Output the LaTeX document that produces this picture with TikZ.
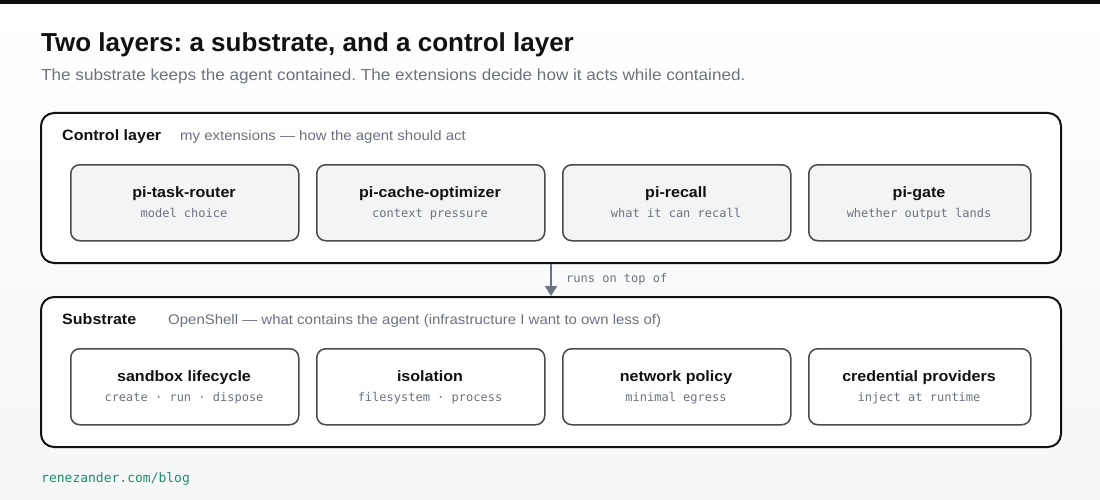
\documentclass[tikz,border=0pt]{standalone}
\usepackage{fontspec}
\setmainfont[FakeStretch=1.07]{Liberation Sans}
\newfontfamily\titlefam{Liberation Sans}
\setmonofont{DejaVu Sans Mono}
\usetikzlibrary{arrows.meta}
\definecolor{bgbot}{HTML}{F6F7F9}
\definecolor{topbar}{HTML}{0F0F10}
\definecolor{ink}{HTML}{111111}
\definecolor{muted}{HTML}{6B7280}
\definecolor{boxline}{HTML}{4A4A4A}
\definecolor{boxfill}{HTML}{F3F4F6}
\definecolor{footgreen}{HTML}{1A8F6A}
\frenchspacing
\tikzset{
  txt/.style={inner sep=0pt, anchor=base west},
  ctxt/.style={inner sep=0pt, anchor=base},
  titlefont/.style={font=\titlefam\fontsize{26}{30}\selectfont\bfseries, text=ink},
  subfont/.style={font=\fontsize{16}{19}\selectfont, text=muted},
  layerhead/.style={font=\fontsize{15}{18}\selectfont\bfseries, text=ink},
  layerdesc/.style={font=\fontsize{14}{17}\selectfont, text=muted},
  boxhead/.style={font=\fontsize{15}{18}\selectfont\bfseries, text=ink},
  boxsub/.style={font=\fontsize{12}{14}\selectfont\ttfamily, text=muted},
  outerbox/.style={draw=ink, line width=2pt, rounded corners=13pt, fill=white, anchor=north west, minimum width=1020pt, minimum height=150pt, inner sep=0pt},
  ctrlbox/.style={draw=boxline, line width=1.5pt, rounded corners=9pt, fill=boxfill, anchor=north west, minimum height=76pt, inner sep=0pt},
  subbox/.style={draw=boxline, line width=1.5pt, rounded corners=9pt, fill=white, anchor=north west, minimum height=76pt, inner sep=0pt},
  flow/.style={draw=muted, line width=2pt, -{Triangle[length=10pt,width=12pt]}},
}
\begin{document}
\begin{tikzpicture}[x=1pt,y=-1pt]
\useasboundingbox (0,0) rectangle (1100,500);
\shade[top color=white, bottom color=bgbot, shading angle=0] (0,0) rectangle (1100,500);
\fill[topbar] (0,0) rectangle (1100,4);

\node[txt, titlefont] (title) at (41,52) {Two layers: a substrate, and a control layer};
\node[txt, subfont] (subtitle) at (41,81) {The substrate keeps the agent contained. The extensions decide how it acts while contained.};

% Control layer
\node[outerbox] (ctrl) at (40,112) {};
\node[txt, layerhead] (ctrlH) at (62,140) {Control layer};
\node[txt, layerdesc] (ctrlD) at (180,140) {my extensions — how the agent should act};

\node[ctrlbox, minimum width=228pt] (c1) at (70,164) {};
\node[ctrlbox, minimum width=228pt] (c2) at (316,164) {};
\node[ctrlbox, minimum width=228pt] (c3) at (562,164) {};
\node[ctrlbox, minimum width=222pt] (c4) at (808,164) {};
\node[ctxt, boxhead] (c1H) at (184,197) {pi-task-router};
\node[ctxt, boxsub] (c1S) at (184,217.5) {model choice};
\node[ctxt, boxhead] (c2H) at (430,197) {pi-cache-optimizer};
\node[ctxt, boxsub] (c2S) at (430,217.5) {context pressure};
\node[ctxt, boxhead] (c3H) at (676,197) {pi-recall};
\node[ctxt, boxsub] (c3S) at (676,217.5) {what it can recall};
\node[ctxt, boxhead] (c4H) at (919,197) {pi-gate};
\node[ctxt, boxsub] (c4S) at (919,217.5) {whether output lands};

% Substrate
\node[outerbox] (subs) at (40,296) {};
\node[txt, layerhead] (subsH) at (62,324) {Substrate};
\node[txt, layerdesc] (subsD) at (168,324) {OpenShell — what contains the agent (infrastructure I want to own less of)};

\node[subbox, minimum width=228pt] (s1) at (70,348) {};
\node[subbox, minimum width=228pt] (s2) at (316,348) {};
\node[subbox, minimum width=228pt] (s3) at (562,348) {};
\node[subbox, minimum width=222pt] (s4) at (808,348) {};
\node[ctxt, boxhead] (s1H) at (184,381) {sandbox lifecycle};
\node[ctxt, boxsub] (s1S) at (184,401.5) {create · run · dispose};
\node[ctxt, boxhead] (s2H) at (430,381) {isolation};
\node[ctxt, boxsub] (s2S) at (430,401.5) {filesystem · process};
\node[ctxt, boxhead] (s3H) at (676,381) {network policy};
\node[ctxt, boxsub] (s3S) at (676,401.5) {minimal egress};
\node[ctxt, boxhead] (s4H) at (919,381) {credential providers};
\node[ctxt, boxsub] (s4S) at (919,401.5) {inject at runtime};

% connector
\draw[flow] (ctrl.south) -- (subs.north);
\node[txt, boxsub] (runs) at (566,282) {runs on top of};

% footer
\node[txt, font=\fontsize{13}{15}\selectfont\ttfamily, text=footgreen] (foot) at (41,482) {renezander.com/blog};
\end{tikzpicture}
\end{document}
